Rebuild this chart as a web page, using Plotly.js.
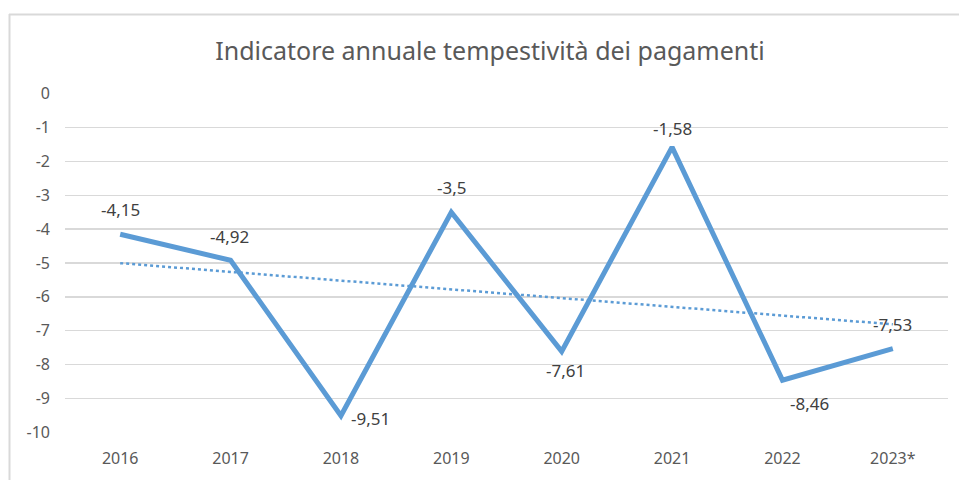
<!DOCTYPE html>
<html>
<head>
<meta charset="utf-8">
<script src="https://cdn.plot.ly/plotly-3.0.1.min.js"></script>
<style>
html,body{margin:0;padding:0;background:#fff;}
#chart{width:959px;height:480px;}
</style>
</head>
<body>
<div id="chart"></div>
<script>
const categories = ["2016","2017","2018","2019","2020","2021","2022","2023*"];
const values = [-4.15, -4.92, -9.51, -3.5, -7.61, -1.58, -8.46, -7.53];
const yTickVals = [0,-1,-2,-3,-4,-5,-6,-7,-8,-9,-10];
const yTickText = ["0","-1","-2","-3","-4","-5","-6","-7","-8","-9","-10"];
const titleText = "Indicatore annuale tempestività dei pagamenti";

// label placement (styling): [xshift, yshift, xanchor]
const labelOffsets = [[0,25,'center'],[-1,24,'center'],[8,-3,'left'],[0,25,'center'],[4,-19,'center'],[0,19,'center'],[27,-23,'center'],[0,24,'center']];

// Linear trendline (least squares over category index), as in the source chart
const n = values.length;
const xs = values.map((_, i) => i + 1);
const xm = xs.reduce((a, b) => a + b, 0) / n;
const ym = values.reduce((a, b) => a + b, 0) / n;
let sxy = 0, sxx = 0;
for (let i = 0; i < n; i++) { sxy += (xs[i] - xm) * (values[i] - ym); sxx += (xs[i] - xm) ** 2; }
const slope = sxy / sxx;
const trend = xs.map(x => ym + slope * (x - xm));

const labels = values.map(v => String(v).replace('.', ','));

const plotL = 65, plotR = 948, plotT = 93, plotB = 433;
const W = 959, H = 480;
const pw = plotR - plotL, ph = plotB - plotT;
const px = x => (x - plotL) / pw;
const py = y => (plotB - y) / ph;

const traces = [
  {
    x: categories, y: trend, type: 'scatter', mode: 'lines',
    line: {color: '#5B9BD5', width: 2.5, dash: 'dot'},
    hoverinfo: 'skip', showlegend: false
  },
  {
    x: categories, y: values, type: 'scatter', mode: 'lines',
    line: {color: '#5B9BD5', width: 5},
    showlegend: false
  }
];

// annotations on a category axis are positioned by category index
const annotations = categories.map((c, i) => ({
  x: i, y: values[i], xref: 'x', yref: 'y', text: labels[i], showarrow: false,
  xshift: labelOffsets[i][0], yshift: labelOffsets[i][1], xanchor: labelOffsets[i][2], yanchor: 'middle',
  font: {family: 'Noto Sans, sans-serif', size: 17, color: '#404040'}
}));

const layout = {
  width: W, height: H,
  margin: {l: plotL, r: W - plotR, t: plotT, b: H - plotB, pad: 0},
  paper_bgcolor: '#fff', plot_bgcolor: '#fff',
  title: {
    text: titleText, x: 490 / W, xref: 'container', xanchor: 'center',
    y: 1 - 51 / H, yref: 'container', yanchor: 'middle',
    font: {family: 'Noto Sans, sans-serif', size: 25, color: '#595959'}
  },
  xaxis: {
    type: 'category', range: [-0.5, 7.5], showgrid: false, zeroline: false,
    showline: false, ticks: '', ticklabelstandoff: 14,
    tickfont: {family: 'Noto Sans, sans-serif', size: 16, color: '#595959'}
  },
  yaxis: {
    range: [-10.02, 0.02], tickvals: yTickVals, ticktext: yTickText,
    showgrid: true, gridcolor: '#d9d9d9', gridwidth: 1.3, zeroline: false,
    showline: false, ticks: '', ticklabelstandoff: 14,
    tickfont: {family: 'Noto Sans, sans-serif', size: 16, color: '#595959'}
  },
  annotations: annotations,
  shapes: [
    {type: 'line', xref: 'paper', yref: 'paper', x0: px(9), x1: px(970), y0: py(14.5), y1: py(14.5),
     line: {color: '#d9d9d9', width: 2}},
    {type: 'line', xref: 'paper', yref: 'paper', x0: px(9.5), x1: px(9.5), y0: py(14), y1: py(490),
     line: {color: '#d9d9d9', width: 2}}
  ]
};

Plotly.newPlot('chart', traces, layout, {displayModeBar: false, staticPlot: true});
</script>
</body>
</html>
